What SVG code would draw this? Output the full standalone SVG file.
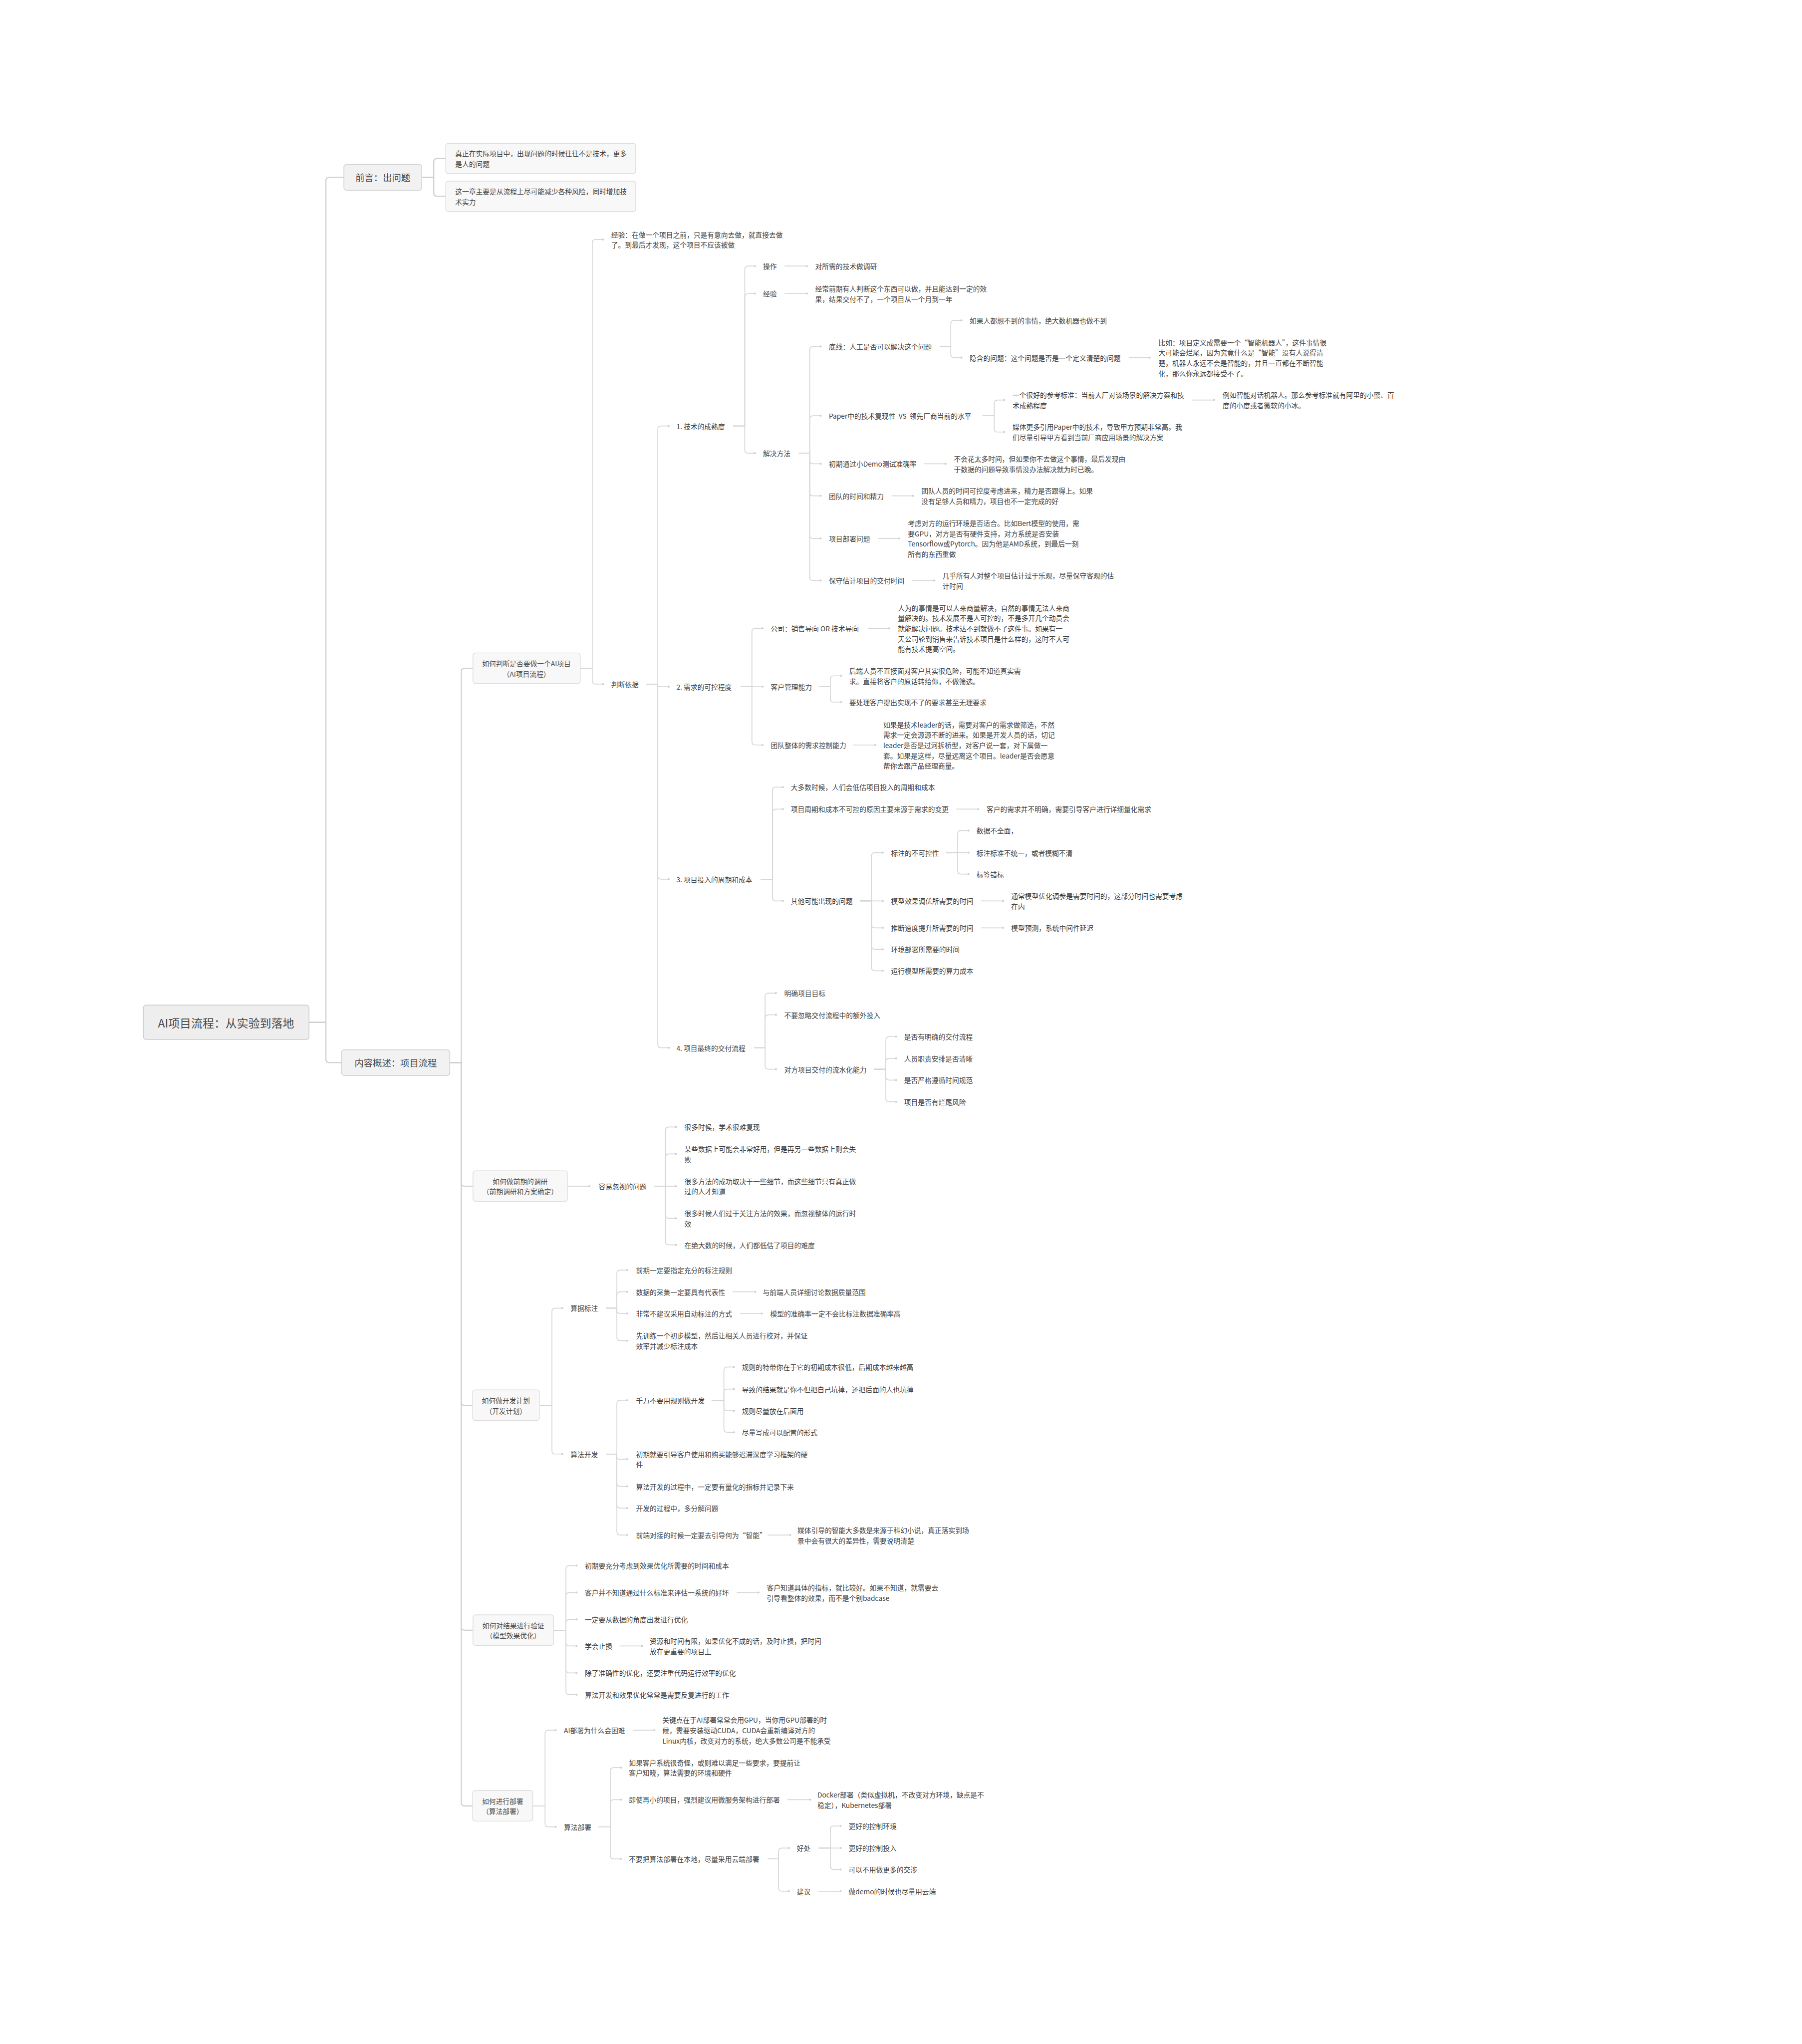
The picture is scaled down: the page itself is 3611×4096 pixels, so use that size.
<svg xmlns="http://www.w3.org/2000/svg" width="3611" height="4096" viewBox="0 0 3611 4096">
<style>
.t{font-family:"Noto Sans CJK SC","Noto Sans",sans-serif;font-size:24px;fill:#404040;dominant-baseline:central}
.bt{font-family:"Noto Sans CJK SC","Noto Sans",sans-serif;font-size:24px;fill:#4a4a4a;dominant-baseline:central;text-anchor:middle}
.mt{font-family:"Noto Sans CJK SC","Noto Sans",sans-serif;font-size:32px;fill:#4a4a4a;dominant-baseline:central;text-anchor:middle}
.rt{font-family:"Noto Sans CJK SC","Noto Sans",sans-serif;font-size:40px;fill:#4a4a4a;dominant-baseline:central;text-anchor:middle}
.c{fill:none;stroke:#d6d6d6;stroke-width:3;marker-end:url(#dot)}
.k{fill:none;stroke:#d0d0d0;stroke-width:4}
.b{fill:#f8f8f8;stroke:#dcdcdc;stroke-width:2.5}
.m{fill:#f2f2f2;stroke:#d4d4d4;stroke-width:3}
.r{fill:#eeeeee;stroke:#cfcfcf;stroke-width:3}
</style>
<defs>
<marker id="dot" viewBox="0 0 10 10" refX="5" refY="5" markerWidth="3" markerHeight="3"><circle cx="5" cy="5" r="4" fill="#d0d0d0"/></marker>
</defs>
<rect width="3611" height="4096" fill="#ffffff"/>
<g transform="scale(0.57335)">
<g id="connectors">
<path class="k" d="M1080 3573H1139V632Q1139 620 1151 620H1202"/>
<path class="k" d="M1080 3573H1139V3702Q1139 3714 1151 3714H1194"/>
<path class="k" d="M1474 620H1516V566Q1516 554 1528 554H1558"/>
<path class="k" d="M1474 620H1516V674Q1516 686 1528 686H1558"/>
<path class="k" d="M1572 3714H1612V2348Q1612 2336 1624 2336H1653"/>
<path class="k" d="M1572 3714H1612V4134Q1612 4146 1624 4146H1653"/>
<path class="k" d="M1572 3714H1612V4900Q1612 4912 1624 4912H1652"/>
<path class="k" d="M1572 3714H1612V5686Q1612 5698 1624 5698H1653"/>
<path class="k" d="M1572 3714H1612V6300Q1612 6312 1624 6312H1652"/>
<path class="c" d="M2028 2336H2070V849Q2070 837 2082 837H2107"/>
<path class="c" d="M2028 2336H2070V2379Q2070 2391 2082 2391H2107"/>
<path class="c" d="M2259 2391H2299V1501Q2299 1489 2311 1489H2337"/>
<path class="c" d="M2259 2391H2299V2395Q2299 2400 2304 2400H2337"/>
<path class="c" d="M2259 2391H2299V3061Q2299 3073 2311 3073H2337"/>
<path class="c" d="M2259 2391H2299V3650Q2299 3662 2311 3662H2337"/>
<path class="c" d="M2562 1489H2603V942Q2603 930 2615 930H2638"/>
<path class="c" d="M2562 1489H2603V1038Q2603 1026 2615 1026H2638"/>
<path class="c" d="M2562 1489H2603V1572Q2603 1584 2615 1584H2638"/>
<path class="c" d="M2742 930H2820"/>
<path class="c" d="M2742 1026H2820"/>
<path class="c" d="M2792 1584H2830V1223Q2830 1211 2842 1211H2868"/>
<path class="c" d="M2792 1584H2830V1465Q2830 1453 2842 1453H2868"/>
<path class="c" d="M2792 1584H2830V1609Q2830 1621 2842 1621H2868"/>
<path class="c" d="M2792 1584H2830V1721Q2830 1733 2842 1733H2868"/>
<path class="c" d="M2792 1584H2830V1870Q2830 1882 2842 1882H2868"/>
<path class="c" d="M2792 1584H2830V2017Q2830 2029 2842 2029H2868"/>
<path class="c" d="M3284 1211H3323V1132Q3323 1120 3335 1120H3360"/>
<path class="c" d="M3284 1211H3323V1238Q3323 1250 3335 1250H3360"/>
<path class="c" d="M3945 1250H4018"/>
<path class="c" d="M3434 1453H3475V1410Q3475 1398 3487 1398H3510"/>
<path class="c" d="M3434 1453H3475V1498Q3475 1510 3487 1510H3510"/>
<path class="c" d="M4166 1398H4243"/>
<path class="c" d="M3228 1621H3305"/>
<path class="c" d="M3116 1733H3191"/>
<path class="c" d="M3068 1882H3143"/>
<path class="c" d="M3187 2029H3265"/>
<path class="c" d="M2589 2400H2628V2208Q2628 2196 2640 2196H2665"/>
<path class="c" d="M2589 2400H2665"/>
<path class="c" d="M2589 2400H2628V2592Q2628 2604 2640 2604H2665"/>
<path class="c" d="M3033 2196H3108"/>
<path class="c" d="M2862 2400H2902V2374Q2902 2362 2914 2362H2940"/>
<path class="c" d="M2862 2400H2902V2442Q2902 2454 2914 2454H2940"/>
<path class="c" d="M2981 2604H3059"/>
<path class="c" d="M2658 3073H2700V2763Q2700 2751 2712 2751H2736"/>
<path class="c" d="M2658 3073H2700V2840Q2700 2828 2712 2828H2736"/>
<path class="c" d="M2658 3073H2700V3137Q2700 3149 2712 3149H2736"/>
<path class="c" d="M3342 2828H3419"/>
<path class="c" d="M3006 3149H3046V2992Q3046 2980 3058 2980H3085"/>
<path class="c" d="M3006 3149H3085"/>
<path class="c" d="M3006 3149H3046V3231Q3046 3243 3058 3243H3085"/>
<path class="c" d="M3006 3149H3046V3306Q3046 3318 3058 3318H3085"/>
<path class="c" d="M3006 3149H3046V3381Q3046 3393 3058 3393H3085"/>
<path class="c" d="M3307 2980H3347V2915Q3347 2903 3359 2903H3385"/>
<path class="c" d="M3307 2980H3385"/>
<path class="c" d="M3307 2980H3347V3043Q3347 3055 3359 3055H3385"/>
<path class="c" d="M3429 3149H3506"/>
<path class="c" d="M3429 3243H3506"/>
<path class="c" d="M2636 3662H2674V3483Q2674 3471 2686 3471H2712"/>
<path class="c" d="M2636 3662H2674V3559Q2674 3547 2686 3547H2712"/>
<path class="c" d="M2636 3662H2674V3725Q2674 3737 2686 3737H2712"/>
<path class="c" d="M3054 3737H3096V3635Q3096 3623 3108 3623H3132"/>
<path class="c" d="M3054 3737H3096V3711Q3096 3699 3108 3699H3132"/>
<path class="c" d="M3054 3737H3096V3763Q3096 3775 3108 3775H3132"/>
<path class="c" d="M3054 3737H3096V3839Q3096 3851 3108 3851H3132"/>
<path class="c" d="M1983 4146H2060"/>
<path class="c" d="M2285 4146H2326V3951Q2326 3939 2338 3939H2362"/>
<path class="c" d="M2285 4146H2326V4045Q2326 4033 2338 4033H2362"/>
<path class="c" d="M2285 4146H2362"/>
<path class="c" d="M2285 4146H2326V4246Q2326 4258 2338 4258H2362"/>
<path class="c" d="M2285 4146H2326V4339Q2326 4351 2338 4351H2362"/>
<path class="c" d="M1885 4912H1929V4584Q1929 4572 1941 4572H1965"/>
<path class="c" d="M1885 4912H1929V5070Q1929 5082 1941 5082H1965"/>
<path class="c" d="M2118 4572H2156V4451Q2156 4439 2168 4439H2192"/>
<path class="c" d="M2118 4572H2156V4527Q2156 4515 2168 4515H2192"/>
<path class="c" d="M2118 4572H2156V4579Q2156 4591 2168 4591H2192"/>
<path class="c" d="M2118 4572H2156V4674Q2156 4686 2168 4686H2192"/>
<path class="c" d="M2560 4515H2640"/>
<path class="c" d="M2586 4591H2662"/>
<path class="c" d="M2118 5082H2156V4906Q2156 4894 2168 4894H2192"/>
<path class="c" d="M2118 5082H2156V5091Q2156 5100 2165 5100H2192"/>
<path class="c" d="M2118 5082H2156V5183Q2156 5195 2168 5195H2192"/>
<path class="c" d="M2118 5082H2156V5259Q2156 5271 2168 5271H2192"/>
<path class="c" d="M2118 5082H2156V5353Q2156 5365 2168 5365H2192"/>
<path class="c" d="M2487 4894H2530V4790Q2530 4778 2542 4778H2565"/>
<path class="c" d="M2487 4894H2530V4867Q2530 4855 2542 4855H2565"/>
<path class="c" d="M2487 4894H2530V4919Q2530 4931 2542 4931H2565"/>
<path class="c" d="M2487 4894H2530V4994Q2530 5006 2542 5006H2565"/>
<path class="c" d="M2683 5365H2762"/>
<path class="c" d="M1935 5698H1978V5484Q1978 5472 1990 5472H2015"/>
<path class="c" d="M1935 5698H1978V5578Q1978 5566 1990 5566H2015"/>
<path class="c" d="M1935 5698H1978V5672Q1978 5660 1990 5660H2015"/>
<path class="c" d="M1935 5698H1978V5741Q1978 5753 1990 5753H2015"/>
<path class="c" d="M1935 5698H1978V5835Q1978 5847 1990 5847H2015"/>
<path class="c" d="M1935 5698H1978V5911Q1978 5923 1990 5923H2015"/>
<path class="c" d="M2575 5566H2651"/>
<path class="c" d="M2165 5753H2244"/>
<path class="c" d="M1862 6312H1905V6059Q1905 6047 1917 6047H1942"/>
<path class="c" d="M1862 6312H1905V6373Q1905 6385 1917 6385H1942"/>
<path class="c" d="M2211 6047H2287"/>
<path class="c" d="M2092 6385H2133V6190Q2133 6178 2145 6178H2170"/>
<path class="c" d="M2092 6385H2133V6302Q2133 6290 2145 6290H2170"/>
<path class="c" d="M2092 6385H2133V6485Q2133 6497 2145 6497H2170"/>
<path class="c" d="M2752 6290H2832"/>
<path class="c" d="M2683 6497H2721V6471Q2721 6459 2733 6459H2757"/>
<path class="c" d="M2683 6497H2721V6598Q2721 6610 2733 6610H2757"/>
<path class="c" d="M2861 6459H2902V6394Q2902 6382 2914 6382H2938"/>
<path class="c" d="M2861 6459H2938"/>
<path class="c" d="M2861 6459H2902V6522Q2902 6534 2914 6534H2938"/>
<path class="c" d="M2861 6610H2938"/>
</g>

<g id="root"><rect class="r" x="501" y="3513" width="579" height="120" rx="10"/><text class="rt" x="790" y="3573">AI项目流程：从实验到落地</text></g>
<g id="preface"><rect class="m" x="1202" y="575" width="272" height="90" rx="9"/><text class="mt" x="1338" y="620">前言：出问题</text></g>
<g id="preface-1"><rect class="b" x="1558" y="501" width="664" height="106" rx="9"/><text class="t"><tspan x="1591" y="536">真正在实际项目中，出现问题的时候往往不是技术，更多</tspan><tspan x="1591" y="572">是人的问题</tspan></text></g>
<g id="preface-2"><rect class="b" x="1558" y="633" width="664" height="106" rx="9"/><text class="t"><tspan x="1591" y="668">这一章主要是从流程上尽可能减少各种风险，同时增加技</tspan><tspan x="1591" y="704">术实力</tspan></text></g>
<g id="overview"><rect class="m" x="1194" y="3669" width="378" height="90" rx="9"/><text class="mt" x="1383" y="3714">内容概述：项目流程</text></g>

<g id="sec-a"><rect class="b" x="1653" y="2282" width="375" height="107" rx="9"/><text class="bt"><tspan x="1840" y="2318">如何判断是否要做一个AI项目</tspan><tspan x="1840" y="2354">（AI项目流程）</tspan></text></g>
<g id="sec-b"><rect class="b" x="1653" y="4092" width="330" height="107" rx="9"/><text class="bt"><tspan x="1818" y="4128">如何做前期的调研</tspan><tspan x="1818" y="4164">（前期调研和方案确定）</tspan></text></g>
<g id="sec-c"><rect class="b" x="1652" y="4858" width="233" height="107" rx="9"/><text class="bt"><tspan x="1768" y="4894">如何做开发计划</tspan><tspan x="1768" y="4930">（开发计划）</tspan></text></g>
<g id="sec-d"><rect class="b" x="1653" y="5644" width="282" height="107" rx="9"/><text class="bt"><tspan x="1794" y="5680">如何对结果进行验证</tspan><tspan x="1794" y="5716">（模型效果优化）</tspan></text></g>
<g id="sec-e"><rect class="b" x="1652" y="6258" width="210" height="107" rx="9"/><text class="bt"><tspan x="1757" y="6294">如何进行部署</tspan><tspan x="1757" y="6330">（算法部署）</tspan></text></g>

<g id="a-exp"><text class="t"><tspan x="2136" y="819">经验：在做一个项目之前，只是有意向去做，就直接去做</tspan><tspan x="2136" y="855">了。到最后才发现，这个项目不应该被做</tspan></text></g>
<g id="a-basis"><text class="t" x="2136" y="2391">判断依据</text></g>
<g id="a1"><text class="t" x="2364" y="1489">1. 技术的成熟度</text></g>
<g id="a1-op"><text class="t" x="2667" y="930">操作</text></g>
<g id="a1-op-1"><text class="t" x="2849" y="930">对所需的技术做调研</text></g>
<g id="a1-exp"><text class="t" x="2667" y="1026">经验</text></g>
<g id="a1-exp-1"><text class="t"><tspan x="2849" y="1008">经常前期有人判断这个东西可以做，并且能达到一定的效</tspan><tspan x="2849" y="1044">果，结果交付不了，一个项目从一个月到一年</tspan></text></g>
<g id="a1-sol"><text class="t" x="2667" y="1584">解决方法</text></g>
<g id="a1-s1"><text class="t" x="2897" y="1211">底线：人工是否可以解决这个问题</text></g>
<g id="a1-s1-1"><text class="t" x="3389" y="1120">如果人都想不到的事情，绝大数机器也做不到</text></g>
<g id="a1-s1-2"><text class="t" x="3389" y="1250">隐含的问题：这个问题是否是一个定义清楚的问题</text></g>
<g id="a1-s1-2-1"><text class="t"><tspan x="4049" y="1196">比如：项目定义成需要一个“智能机器人”，这件事情很</tspan><tspan x="4049" y="1232">大可能会烂尾，因为究竟什么是“智能”没有人说得清</tspan><tspan x="4049" y="1268">楚，机器人永远不会是智能的，并且一直都在不断智能</tspan><tspan x="4049" y="1304">化，那么你永远都接受不了。</tspan></text></g>
<g id="a1-s2"><text class="t" x="2897" y="1453" xml:space="preserve">Paper中的技术复现性  VS  领先厂商当前的水平</text></g>
<g id="a1-s2-1"><text class="t"><tspan x="3539" y="1380">一个很好的参考标准：当前大厂对该场景的解决方案和技</tspan><tspan x="3539" y="1416">术成熟程度</tspan></text></g>
<g id="a1-s2-1-1"><text class="t"><tspan x="4273" y="1380">例如智能对话机器人。那么参考标准就有阿里的小蜜、百</tspan><tspan x="4273" y="1416">度的小度或者微软的小冰。</tspan></text></g>
<g id="a1-s2-2"><text class="t"><tspan x="3539" y="1492">媒体更多引用Paper中的技术，导致甲方预期非常高。我</tspan><tspan x="3539" y="1528">们尽量引导甲方看到当前厂商应用场景的解决方案</tspan></text></g>
<g id="a1-s3"><text class="t" x="2897" y="1621">初期通过小Demo测试准确率</text></g>
<g id="a1-s3-1"><text class="t"><tspan x="3334" y="1603">不会花太多时间，但如果你不去做这个事情，最后发现由</tspan><tspan x="3334" y="1639">于数据的问题导致事情没办法解决就为时已晚。</tspan></text></g>
<g id="a1-s4"><text class="t" x="2897" y="1733">团队的时间和精力</text></g>
<g id="a1-s4-1"><text class="t"><tspan x="3220" y="1715">团队人员的时间可控度考虑进来，精力是否跟得上。如果</tspan><tspan x="3220" y="1751">没有足够人员和精力，项目也不一定完成的好</tspan></text></g>
<g id="a1-s5"><text class="t" x="2897" y="1882">项目部署问题</text></g>
<g id="a1-s5-1"><text class="t"><tspan x="3173" y="1828">考虑对方的运行环境是否适合。比如Bert模型的使用，需</tspan><tspan x="3173" y="1864">要GPU，对方是否有硬件支持，对方系统是否安装</tspan><tspan x="3173" y="1900">Tensorflow或Pytorch。因为他是AMD系统，到最后一刻</tspan><tspan x="3173" y="1936">所有的东西重做</tspan></text></g>
<g id="a1-s6"><text class="t" x="2897" y="2029">保守估计项目的交付时间</text></g>
<g id="a1-s6-1"><text class="t"><tspan x="3294" y="2011">几乎所有人对整个项目估计过于乐观，尽量保守客观的估</tspan><tspan x="3294" y="2047">计时间</tspan></text></g>

<g id="a2"><text class="t" x="2364" y="2400">2. 需求的可控程度</text></g>
<g id="a2-1"><text class="t" x="2694" y="2196">公司：销售导向 OR 技术导向</text></g>
<g id="a2-1-1"><text class="t"><tspan x="3138" y="2124">人为的事情是可以人来商量解决，自然的事情无法人来商</tspan><tspan x="3138" y="2160">量解决的。技术发展不是人可控的，不是多开几个动员会</tspan><tspan x="3138" y="2196">就能解决问题。技术达不到就做不了这件事。如果有一</tspan><tspan x="3138" y="2232">天公司轮到销售来告诉技术项目是什么样的，这时不大可</tspan><tspan x="3138" y="2268">能有技术提高空间。</tspan></text></g>
<g id="a2-2"><text class="t" x="2694" y="2400">客户管理能力</text></g>
<g id="a2-2-1"><text class="t"><tspan x="2968" y="2344">后端人员不直接面对客户其实很危险，可能不知道真实需</tspan><tspan x="2968" y="2380">求。直接将客户的原话转给你，不做筛选。</tspan></text></g>
<g id="a2-2-2"><text class="t" x="2968" y="2454">要处理客户提出实现不了的要求甚至无理要求</text></g>
<g id="a2-3"><text class="t" x="2694" y="2604">团队整体的需求控制能力</text></g>
<g id="a2-3-1"><text class="t"><tspan x="3087" y="2532">如果是技术leader的话，需要对客户的需求做筛选，不然</tspan><tspan x="3087" y="2568">需求一定会源源不断的进来。如果是开发人员的话，切记</tspan><tspan x="3087" y="2604">leader是否是过河拆桥型，对客户说一套，对下属做一</tspan><tspan x="3087" y="2640">套。如果是这样，尽量远离这个项目。leader是否会愿意</tspan><tspan x="3087" y="2676">帮你去跟产品经理商量。</tspan></text></g>

<g id="a3"><text class="t" x="2364" y="3073">3. 项目投入的周期和成本</text></g>
<g id="a3-1"><text class="t" x="2764" y="2751">大多数时候，人们会低估项目投入的周期和成本</text></g>
<g id="a3-2"><text class="t" x="2764" y="2828">项目周期和成本不可控的原因主要来源于需求的变更</text></g>
<g id="a3-2-1"><text class="t" x="3448" y="2828">客户的需求并不明确，需要引导客户进行详细量化需求</text></g>
<g id="a3-3"><text class="t" x="2764" y="3149">其他可能出现的问题</text></g>
<g id="a3-3-1"><text class="t" x="3114" y="2980">标注的不可控性</text></g>
<g id="a3-3-1-1"><text class="t" x="3413" y="2903">数据不全面，</text></g>
<g id="a3-3-1-2"><text class="t" x="3413" y="2980">标注标准不统一，或者模糊不清</text></g>
<g id="a3-3-1-3"><text class="t" x="3413" y="3055">标签错标</text></g>
<g id="a3-3-2"><text class="t" x="3114" y="3149">模型效果调优所需要的时间</text></g>
<g id="a3-3-2-1"><text class="t"><tspan x="3534" y="3131">通常模型优化调参是需要时间的，这部分时间也需要考虑</tspan><tspan x="3534" y="3167">在内</tspan></text></g>
<g id="a3-3-3"><text class="t" x="3114" y="3243">推断速度提升所需要的时间</text></g>
<g id="a3-3-3-1"><text class="t" x="3534" y="3243">模型预测，系统中间件延迟</text></g>
<g id="a3-3-4"><text class="t" x="3114" y="3318">环境部署所需要的时间</text></g>
<g id="a3-3-5"><text class="t" x="3114" y="3393">运行模型所需要的算力成本</text></g>

<g id="a4"><text class="t" x="2364" y="3662">4. 项目最终的交付流程</text></g>
<g id="a4-1"><text class="t" x="2741" y="3471">明确项目目标</text></g>
<g id="a4-2"><text class="t" x="2741" y="3547">不要忽略交付流程中的额外投入</text></g>
<g id="a4-3"><text class="t" x="2741" y="3737">对方项目交付的流水化能力</text></g>
<g id="a4-3-1"><text class="t" x="3160" y="3623">是否有明确的交付流程</text></g>
<g id="a4-3-2"><text class="t" x="3160" y="3699">人员职责安排是否清晰</text></g>
<g id="a4-3-3"><text class="t" x="3160" y="3775">是否严格遵循时间规范</text></g>
<g id="a4-3-4"><text class="t" x="3160" y="3851">项目是否有烂尾风险</text></g>

<g id="b1"><text class="t" x="2092" y="4146">容易忽视的问题</text></g>
<g id="b1-1"><text class="t" x="2392" y="3939">很多时候，学术很难复现</text></g>
<g id="b1-2"><text class="t"><tspan x="2392" y="4015">某些数据上可能会非常好用，但是再另一些数据上则会失</tspan><tspan x="2392" y="4051">败</tspan></text></g>
<g id="b1-3"><text class="t"><tspan x="2392" y="4128">很多方法的成功取决于一些细节，而这些细节只有真正做</tspan><tspan x="2392" y="4164">过的人才知道</tspan></text></g>
<g id="b1-4"><text class="t"><tspan x="2392" y="4240">很多时候人们过于关注方法的效果，而忽视整体的运行时</tspan><tspan x="2392" y="4276">效</tspan></text></g>
<g id="b1-5"><text class="t" x="2392" y="4351">在绝大数的时候，人们都低估了项目的难度</text></g>

<g id="c1"><text class="t" x="1994" y="4572">算据标注</text></g>
<g id="c1-1"><text class="t" x="2223" y="4439">前期一定要指定充分的标注规则</text></g>
<g id="c1-2"><text class="t" x="2223" y="4515">数据的采集一定要具有代表性</text></g>
<g id="c1-2-1"><text class="t" x="2666" y="4515">与前端人员详细讨论数据质量范围</text></g>
<g id="c1-3"><text class="t" x="2223" y="4591">非常不建议采用自动标注的方式</text></g>
<g id="c1-3-1"><text class="t" x="2692" y="4591">模型的准确率一定不会比标注数据准确率高</text></g>
<g id="c1-4"><text class="t"><tspan x="2223" y="4668">先训练一个初步模型，然后让相关人员进行校对，并保证</tspan><tspan x="2223" y="4704">效率并减少标注成本</tspan></text></g>
<g id="c2"><text class="t" x="1994" y="5082">算法开发</text></g>
<g id="c2-1"><text class="t" x="2223" y="4894">千万不要用规则做开发</text></g>
<g id="c2-1-1"><text class="t" x="2593" y="4778">规则的特带你在于它的初期成本很低，后期成本越来越高</text></g>
<g id="c2-1-2"><text class="t" x="2593" y="4855">导致的结果就是你不但把自己坑掉，还把后面的人也坑掉</text></g>
<g id="c2-1-3"><text class="t" x="2593" y="4931">规则尽量放在后面用</text></g>
<g id="c2-1-4"><text class="t" x="2593" y="5006">尽量写成可以配置的形式</text></g>
<g id="c2-2"><text class="t"><tspan x="2223" y="5082">初期就要引导客户使用和购买能够迟滞深度学习框架的硬</tspan><tspan x="2223" y="5118">件</tspan></text></g>
<g id="c2-3"><text class="t" x="2223" y="5195">算法开发的过程中，一定要有量化的指标并记录下来</text></g>
<g id="c2-4"><text class="t" x="2223" y="5271">开发的过程中，多分解问题</text></g>
<g id="c2-5"><text class="t" x="2223" y="5365">前端对接的时候一定要去引导何为“智能”</text></g>
<g id="c2-5-1"><text class="t"><tspan x="2787" y="5348">媒体引导的智能大多数是来源于科幻小说，真正落实到场</tspan><tspan x="2787" y="5384">景中会有很大的差异性，需要说明清楚</tspan></text></g>

<g id="d1"><text class="t" x="2044" y="5472">初期要充分考虑到效果优化所需要的时间和成本</text></g>
<g id="d2"><text class="t" x="2044" y="5566">客户并不知道通过什么标准来评估一系统的好坏</text></g>
<g id="d2-1"><text class="t"><tspan x="2680" y="5548">客户知道具体的指标，就比较好。如果不知道，就需要去</tspan><tspan x="2680" y="5584">引导看整体的效果，而不是个别badcase</tspan></text></g>
<g id="d3"><text class="t" x="2044" y="5660">一定要从数据的角度出发进行优化</text></g>
<g id="d4"><text class="t" x="2044" y="5753">学会止损</text></g>
<g id="d4-1"><text class="t"><tspan x="2271" y="5735">资源和时间有限，如果优化不成的话，及时止损，把时间</tspan><tspan x="2271" y="5771">放在更重要的项目上</tspan></text></g>
<g id="d5"><text class="t" x="2044" y="5847">除了准确性的优化，还要注重代码运行效率的优化</text></g>
<g id="d6"><text class="t" x="2044" y="5923">算法开发和效果优化常常是需要反复进行的工作</text></g>

<g id="e1"><text class="t" x="1971" y="6047">AI部署为什么会困难</text></g>
<g id="e1-1"><text class="t"><tspan x="2315" y="6011">关键点在于AI部署常常会用GPU，当你用GPU部署的时</tspan><tspan x="2315" y="6047">候，需要安装驱动CUDA，CUDA会重新编译对方的</tspan><tspan x="2315" y="6083">Linux内核，改变对方的系统，绝大多数公司是不能承受</tspan></text></g>
<g id="e2"><text class="t" x="1971" y="6385">算法部署</text></g>
<g id="e2-1"><text class="t"><tspan x="2198" y="6160">如果客户系统很奇怪，或则难以满足一些要求，要提前让</tspan><tspan x="2198" y="6196">客户知晓，算法需要的环境和硬件</tspan></text></g>
<g id="e2-2"><text class="t" x="2198" y="6290">即使再小的项目，强烈建议用微服务架构进行部署</text></g>
<g id="e2-2-1"><text class="t"><tspan x="2857" y="6272">Docker部署（类似虚拟机，不改变对方环境，缺点是不</tspan><tspan x="2857" y="6308">稳定），Kubernetes部署</tspan></text></g>
<g id="e2-3"><text class="t" x="2198" y="6497">不要把算法部署在本地，尽量采用云端部署</text></g>
<g id="e2-3-1"><text class="t" x="2785" y="6459">好处</text></g>
<g id="e2-3-1-1"><text class="t" x="2966" y="6382">更好的控制环境</text></g>
<g id="e2-3-1-2"><text class="t" x="2966" y="6459">更好的控制投入</text></g>
<g id="e2-3-1-3"><text class="t" x="2966" y="6534">可以不用做更多的交涉</text></g>
<g id="e2-3-2"><text class="t" x="2785" y="6610">建议</text></g>
<g id="e2-3-2-1"><text class="t" x="2966" y="6610">做demo的时候也尽量用云端</text></g>
</g>
</svg>
